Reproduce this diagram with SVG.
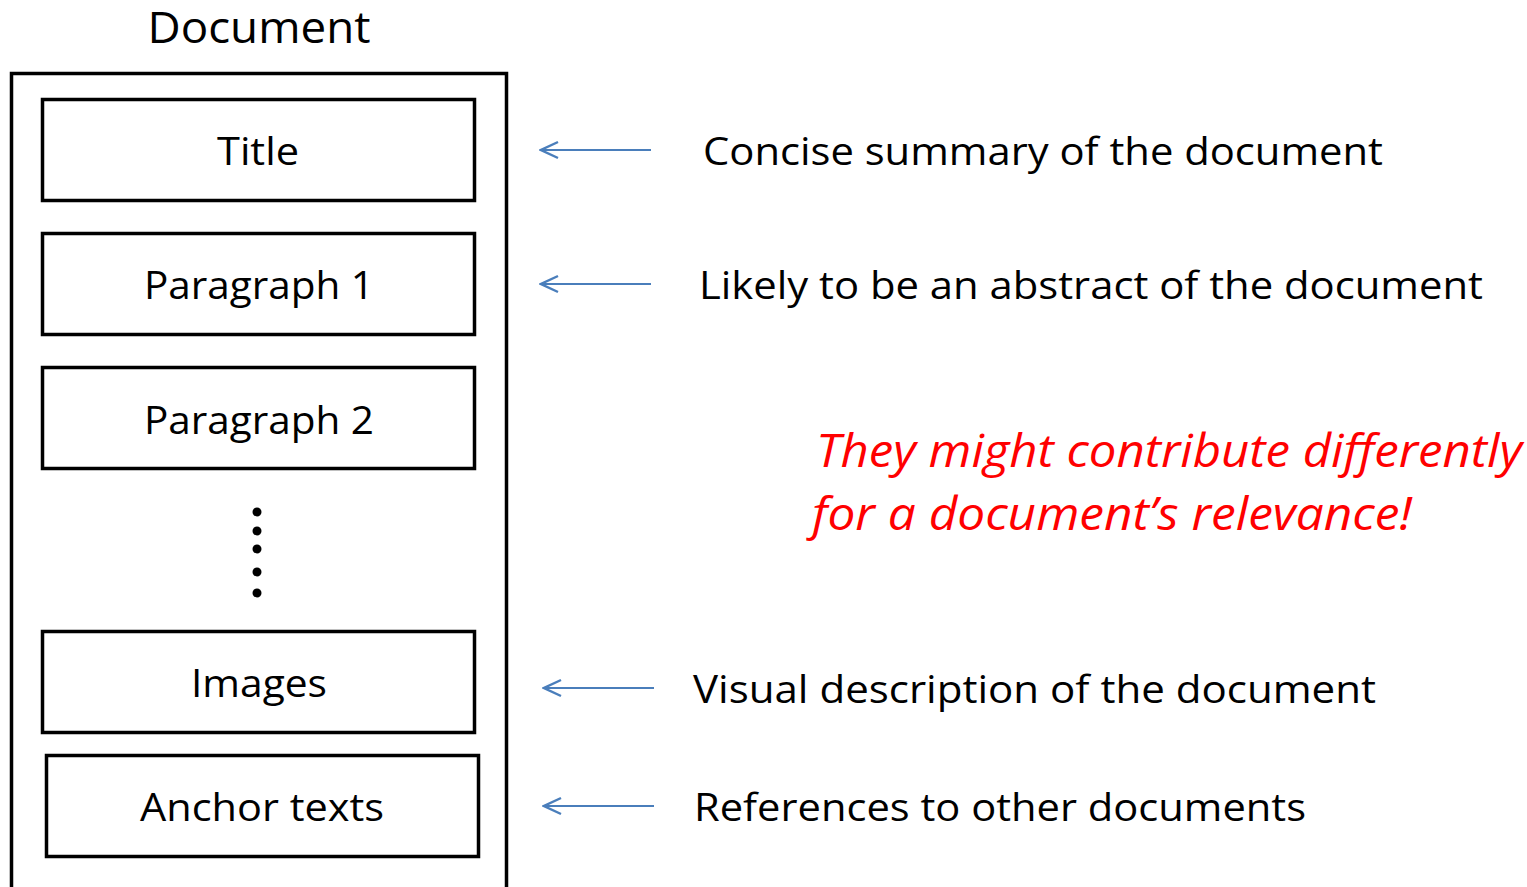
<svg xmlns="http://www.w3.org/2000/svg" width="1527" height="887" viewBox="0 0 1527 887">
<style>
.box{fill:#fff;stroke:#000;stroke-width:3.5}
.t{font-family:"Open Sans","Liberation Sans",sans-serif;font-size:38px;fill:#000}
.c{text-anchor:middle}
.red{font-family:"Open Sans","Liberation Sans",sans-serif;font-size:46px;font-style:italic;fill:#ff0000}
.arr{stroke:#4a7ebb;stroke-width:2.2;fill:none}
</style>
<defs>
<marker id="ah" viewBox="0 0 20 20" refX="18" refY="10" markerWidth="20" markerHeight="20" markerUnits="userSpaceOnUse" orient="auto">
<path d="M1,2 L18,10 L1,18" fill="none" stroke="#4a7ebb" stroke-width="2.4" stroke-linejoin="miter"/>
</marker>
</defs>
<rect width="1527" height="887" fill="#fff"/>
<g id="document">
<rect x="11.5" y="73.5" width="495" height="830" fill="none" stroke="#000" stroke-width="3.5"/>
<text class="t c" x="259" y="43" style="font-size:43px" textLength="223" lengthAdjust="spacingAndGlyphs">Document</text>
</g>
<g id="title"><rect class="box" x="42.5" y="99.5" width="432" height="101"/><text class="t c" x="258" y="165" textLength="82" lengthAdjust="spacingAndGlyphs">Title</text></g>
<g id="paragraph1"><rect class="box" x="42.5" y="233.5" width="432" height="101"/><text class="t c" x="259" y="299" textLength="230" lengthAdjust="spacingAndGlyphs">Paragraph 1</text></g>
<g id="paragraph2"><rect class="box" x="42.5" y="367.5" width="432" height="101"/><text class="t c" x="259" y="434" textLength="230" lengthAdjust="spacingAndGlyphs">Paragraph 2</text></g>
<g id="dots" fill="#000">
<circle cx="257" cy="512" r="4.5"/><circle cx="257" cy="531" r="4.5"/><circle cx="257" cy="549" r="4.5"/><circle cx="257" cy="572" r="4.5"/><circle cx="257" cy="593" r="4.5"/>
</g>
<g id="images"><rect class="box" x="42.5" y="631.5" width="432" height="101"/><text class="t c" x="259" y="697" textLength="136" lengthAdjust="spacingAndGlyphs">Images</text></g>
<g id="anchor"><rect class="box" x="46.5" y="755.5" width="432" height="101"/><text class="t c" x="262" y="821" textLength="244" lengthAdjust="spacingAndGlyphs">Anchor texts</text></g>
<g id="connectors">
<line class="arr" x1="651" y1="150" x2="541" y2="150" marker-end="url(#ah)"/>
<line class="arr" x1="651" y1="284" x2="541" y2="284" marker-end="url(#ah)"/>
<line class="arr" x1="654" y1="688" x2="544" y2="688" marker-end="url(#ah)"/>
<line class="arr" x1="654" y1="806" x2="544" y2="806" marker-end="url(#ah)"/>
</g>
<g id="labels">
<text class="t" x="703" y="165" textLength="680" lengthAdjust="spacingAndGlyphs">Concise summary of the document</text>
<text class="t" x="699" y="299" textLength="784" lengthAdjust="spacingAndGlyphs">Likely to be an abstract of the document</text>
<text class="t" x="693" y="703" textLength="683" lengthAdjust="spacingAndGlyphs">Visual description of the document</text>
<text class="t" x="694" y="821" textLength="612" lengthAdjust="spacingAndGlyphs">References to other documents</text>
</g>
<g id="note">
<text class="red" x="816" y="467" textLength="706" lengthAdjust="spacingAndGlyphs">They might contribute differently</text>
<text class="red" x="812" y="530" textLength="600" lengthAdjust="spacingAndGlyphs">for a document’s relevance!</text>
</g>
</svg>
